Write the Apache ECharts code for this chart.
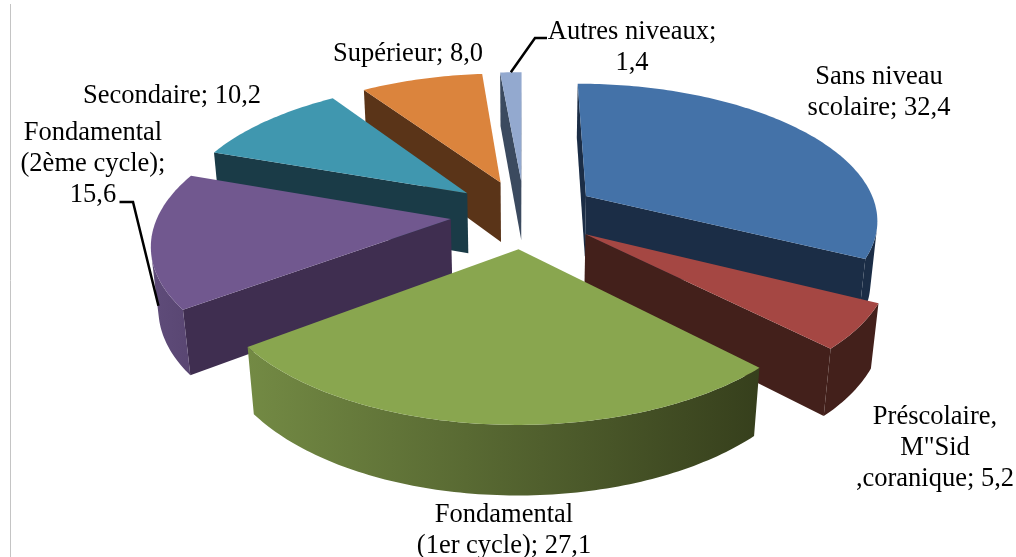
<!DOCTYPE html>
<html><head><meta charset="utf-8">
<style>html,body{margin:0;padding:0;background:#fff}#c{width:1016px;height:557px}</style>
<script src="https://cdn.jsdelivr.net/npm/echarts@6/dist/echarts.min.js"></script></head>
<body><div id="c"></div><script>
const categories=['Sans niveau scolaire','Préscolaire, M"Sid ,coranique','Fondamental (1er cycle)','Fondamental (2ème cycle)','Secondaire','Supérieur','Autres niveaux'];
const values=[32.4,5.2,27.1,15.6,10.2,8.0,1.4];
const labelTexts=['Sans niveau\nscolaire; 32,4','Préscolaire,\nM"Sid\n,coranique; 5,2','Fondamental\n(1er cycle); 27,1','Fondamental\n(2ème cycle);\n15,6','Secondaire; 10,2','Supérieur; 8,0','Autres niveaux;\n1,4'];
const topColors=['#4472A8','#A54743','#89A64F','#71588F','#4097AF','#DB843D','#93A9CF'];
const sideColors=['#1B2D46','#43201B','#3B4520','#3F2E50','#1A3B47','#5A3418','#3B4A5F'];
const wallFrom=['#1B2D46','#43201B','#738A44','#5F4C7A','#1A3B47','#5A3418','#3B4A5F'];
const wallTo=['#1B2D46','#43201B','#363F1C','#594672','#1A3B47','#5A3418','#3B4A5F'];
const paintOrder=[6,5,4,0,3,1,2];
const labelAt=[[879,93],[935,448],[504,531],[93,164],[172,96],[408,54],[632,48]];
// projection of the exploded 3-D pie: camera, tilt, thickness, explosion
const P={cx:524.3,cy:213.7,F:1639.4,D:5.61,s:.463,h:.24,rot:0,explode:.253};
const cum=[];let acc=0;values.forEach(v=>{cum.push(acc);acc+=v;});const total=acc;
function angs(i){return[P.rot+360*cum[i]/total,P.rot+360*(cum[i]+values[i])/total];}
function proj(i,aDeg,r,low){const[a1,a2]=angs(i),b=(a1+a2)/2*Math.PI/180,a=aDeg*Math.PI/180,e=P.explode;
 const X=r*Math.sin(a)+e*Math.sin(b),Y=r*Math.cos(a)+e*Math.cos(b),Z=low?-P.h:0,s=P.s,c=Math.sqrt(1-s*s),d=P.D+Y*c-Z*s;
 return[P.cx+P.F*X/d,P.cy-P.F*(Y*s+Z*c)/d];}
function area(poly){let A=0;poly.forEach((q,k)=>{const r=poly[(k+1)%poly.length];A+=q[0]*r[1]-r[0]*q[1];});return A;}
function renderSlice(params,api){const i=api.value(0),[a1,a2]=angs(i),ch=[];const n=Math.max(4,Math.ceil(a2-a1));
 const arc=[],arcL=[];for(let k=0;k<=n;k++){const a=a1+(a2-a1)*k/n;arc.push(proj(i,a,1,0));arcL.push(proj(i,a,1,1));}
 const A=proj(i,a1,0,0),AL=proj(i,a1,0,1);
 const sf=[A,arc[0],arcL[0],AL],ef=[A,arc[n],arcL[n],AL];
 if(area(sf)<0)ch.push({type:'polygon',shape:{points:sf},style:{fill:sideColors[i]}});
 if(area(ef)>0)ch.push({type:'polygon',shape:{points:ef},style:{fill:sideColors[i]}});
 let run=null;const flush=()=>{if(run){const r=run.t.concat(run.b.reverse());ch.push({type:'polygon',shape:{points:r},style:{fill:{type:'linear',x:0,y:0,x2:1,y2:0,colorStops:[{offset:0,color:wallFrom[i]},{offset:1,color:wallTo[i]}]}}});run=null;}};
 for(let k=0;k<n;k++){const vis=area([arc[k],arc[k+1],arcL[k+1],arcL[k]])<0;
  if(vis){if(!run)run={t:[arc[k]],b:[arcL[k]]};run.t.push(arc[k+1]);run.b.push(arcL[k+1]);}else flush();}
 flush();
 ch.push({type:'polygon',shape:{points:[A].concat(arc)},style:{fill:topColors[i]}});
 return{type:'group',children:ch};}
function renderLabel(params,api){const i=api.value(0);return{type:'text',style:{text:labelTexts[i],x:labelAt[i][0],y:labelAt[i][1],align:'center',verticalAlign:'middle',fontFamily:'Liberation Serif',fontSize:26.5,lineHeight:31,fill:'#000'}};}
const [a6s,a6e]=angs(6);
const leaders=[{i:3,from:[[119.5,202],[133,202]],to:proj(3,260,1,1)},{i:6,from:[[547,38],[535,38]],to:proj(6,(a6s+a6e)/2,1,0)}];
const chart=echarts.init(document.getElementById('c'),null,{renderer:'canvas'});
chart.setOption({animation:false,backgroundColor:'#fff',
 graphic:[{type:'line',silent:true,shape:{x1:10.5,y1:4,x2:10.5,y2:557},style:{stroke:'#c4c4c4',lineWidth:1}}].concat(
  leaders.map(l=>({type:'polyline',silent:true,z:50,shape:{points:l.from.concat([l.to])},style:{stroke:'#000',lineWidth:2.5,fill:null}}))),
 series:[{type:'custom',name:'Niveau',coordinateSystem:'none',silent:true,renderItem:renderSlice,data:paintOrder.map(i=>[i,values[i],categories[i]])},
 {type:'custom',coordinateSystem:'none',silent:true,renderItem:renderLabel,data:values.map((v,i)=>[i,v]),z:5}]});
</script></body></html>
